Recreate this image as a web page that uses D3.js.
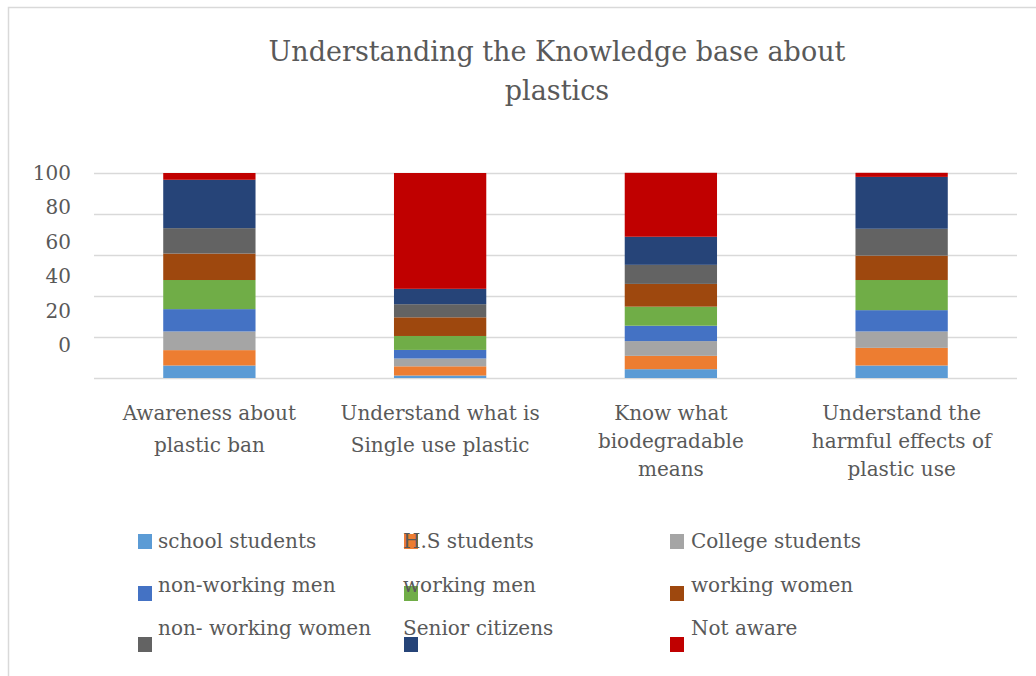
<!DOCTYPE html>
<html>
<head>
<meta charset="utf-8">
<script src="https://cdn.jsdelivr.net/npm/d3@7"></script>
<style>
  body { margin: 0; background: #fff; }
  text { font-family: "DejaVu Serif", "Liberation Serif", serif; fill: #595959; }
</style>
</head>
<body>
<svg id="chart" width="1036" height="676"></svg>
<script>
// Chart data (percent share of each group)
const categories = [
    ["Awareness about", "plastic ban"],
    ["Understand what is", "Single use plastic"],
    ["Know what", "biodegradable", "means"],
    ["Understand the", "harmful effects of", "plastic use"]
];
const groups = ["school students", "H.S students", "College students",
                "non-working men", "working men", "working women",
                "non- working women", "Senior citizens", "Not aware"];
const colors = ["#5B9BD5", "#ED7D31", "#A5A5A5", "#4472C4", "#70AD47",
                "#9E480E", "#636363", "#264478", "#C00000"];
const schoolStudents   = [6.1, 1.2, 4.3, 6.1];
const hsStudents       = [7.5, 4.5, 6.5, 8.6];
const collegeStudents  = [9.1, 3.8, 7.2, 8.0];
const nonWorkingMen    = [10.9, 4.2, 7.5, 10.4];
const workingMen       = [14.2, 6.8, 9.3, 14.7];
const workingWomen     = [12.9, 9.1, 11.1, 11.9];
const nonWorkingWomen  = [12.4, 6.4, 9.3, 13.1];
const seniorCitizens   = [23.6, 7.5, 13.7, 25.3];
const notAware         = [3.3, 56.5, 31.2, 2.0];
const yTicks = [0, 20, 40, 60, 80, 100];

const seriesValues = [schoolStudents, hsStudents, collegeStudents, nonWorkingMen,
    workingMen, workingWomen, nonWorkingWomen, seniorCitizens, notAware];

const SIZES = { left: 94, right: 1017, top: 173, bottom: 378 };

const svg = d3.select("#chart");

// frame
svg.append("path")
    .attr("d", "M8.5,676 V7.5 H1036")
    .attr("fill", "none").attr("stroke", "#d9d9d9").attr("stroke-width", 1.5);

// title
svg.append("text").attr("x", 557).attr("y", 61)
    .attr("text-anchor", "middle").style("font-size", "27px")
    .text("Understanding the Knowledge base about");
svg.append("text").attr("x", 557).attr("y", 100)
    .attr("text-anchor", "middle").style("font-size", "27px")
    .text("plastics");

const x = d3.scaleBand()
    .domain(d3.range(categories.length))
    .range([SIZES.left, SIZES.right])
    .paddingInner(0.6).paddingOuter(0.3);

const y = d3.scaleLinear().domain([0, 100]).range([SIZES.bottom, SIZES.top]);
// tick labels sit off their gridlines in the original
const yLabel = d3.scaleLinear().domain([0, 100]).range([345, 172.5]);

// gridlines
svg.append("g")
    .attr("transform", "translate(" + SIZES.left + ",0)")
    .call(d3.axisRight(y).tickValues(yTicks).tickSize(SIZES.right - SIZES.left).tickFormat(""))
    .call(g => g.select(".domain").remove())
    .call(g => g.selectAll("line").attr("stroke", "#d9d9d9").attr("stroke-width", 1.5));

// y labels
svg.append("g").selectAll("text")
    .data(yTicks).enter().append("text")
    .attr("x", 71).attr("y", d => yLabel(d)).attr("dy", "0.36em")
    .attr("text-anchor", "end").style("font-size", "20px")
    .text(d => d);

// stacked bars
const rows = categories.map((c, i) => {
    const r = { idx: i };
    groups.forEach((g, k) => r[g] = seriesValues[k][i]);
    return r;
});
const stack = d3.stack().keys(groups)(rows);

svg.append("g").selectAll("g")
    .data(stack).enter().append("g")
    .attr("fill", (d, k) => colors[k])
    .selectAll("rect")
    .data(d => d).enter().append("rect")
    .attr("x", d => x(d.data.idx))
    .attr("width", x.bandwidth())
    .attr("y", d => y(d[1]))
    .attr("height", d => y(d[0]) - y(d[1]));

// category labels
const catG = svg.append("g").selectAll("text")
    .data(categories).enter().append("text")
    .attr("text-anchor", "middle").style("font-size", "20px")
    .attr("transform", (d, i) => "translate(" + (x(i) + x.bandwidth() / 2) + ",0)");
catG.selectAll("tspan")
    .data(d => d.map(t => ({ t: t, n: d.length }))).enter().append("tspan")
    .attr("x", 0)
    .attr("y", (d, j) => 420 + j * (d.n > 2 ? 28 : 32))
    .text(d => d.t);

// legend
const legX = [138, 404, 670], legTX = [158, 403, 691];
const legMY = [534, 586, 637], legTY = [548, 592, 635];
const leg = svg.append("g").selectAll("g")
    .data(groups).enter().append("g");
leg.append("rect")
    .attr("x", (d, i) => legX[i % 3]).attr("y", (d, i) => legMY[Math.floor(i / 3)])
    .attr("width", 14).attr("height", 15)
    .attr("fill", (d, i) => colors[i]);
leg.append("text")
    .attr("x", (d, i) => legTX[i % 3]).attr("y", (d, i) => legTY[Math.floor(i / 3)])
    .style("font-size", "20px")
    .text(d => d);
</script>
</body>
</html>
